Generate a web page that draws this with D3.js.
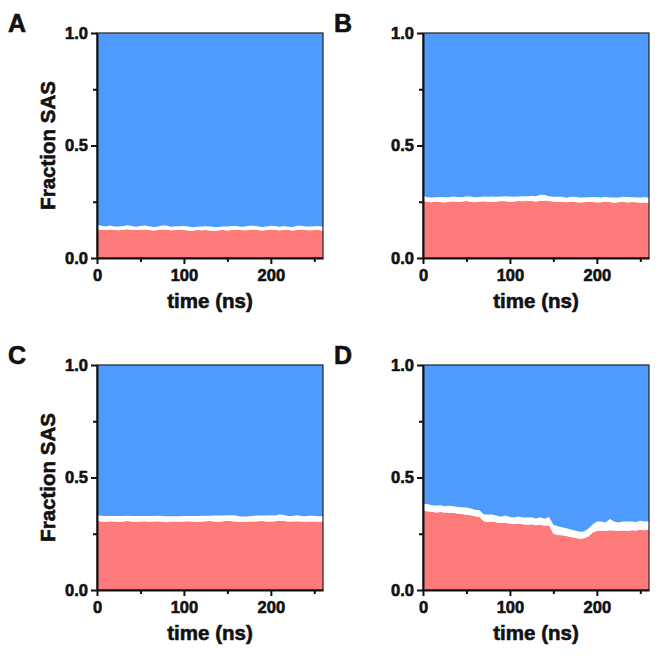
<!DOCTYPE html>
<html>
<head>
<meta charset="utf-8">
<script src="https://cdn.jsdelivr.net/npm/d3@7"></script>
<style>
  html, body { margin: 0; padding: 0; background: #fff; }
  svg text { font-family: "Liberation Sans", Arial, sans-serif; font-weight: bold; fill: #111; stroke: #111; stroke-width: 0.6px; }
</style>
</head>
<body>
<svg id="chart" width="672" height="665"></svg>
<script>
// time axis, 5 ns sampling
const TIME = d3.range(0, 261, 5);

// buried (red) fraction per panel
const buriedA = [0.128,0.126,0.124,0.127,0.125,0.123,0.126,0.128,0.125,0.124,
  0.126,0.127,0.124,0.122,0.125,0.127,0.126,0.123,0.124,0.126,
  0.125,0.122,0.121,0.124,0.123,0.125,0.122,0.121,0.123,0.124,
  0.122,0.125,0.126,0.124,0.123,0.125,0.127,0.124,0.122,0.125,
  0.126,0.124,0.123,0.125,0.124,0.122,0.125,0.126,0.124,0.123,
  0.125,0.124,0.122];
const buriedB = [0.255,0.250,0.248,0.251,0.249,0.247,0.250,0.252,0.249,0.251,
  0.253,0.250,0.248,0.251,0.252,0.250,0.249,0.251,0.253,0.252,
  0.250,0.251,0.253,0.252,0.254,0.253,0.251,0.255,0.256,0.253,
  0.251,0.249,0.250,0.248,0.251,0.249,0.247,0.248,0.250,0.249,
  0.247,0.248,0.250,0.249,0.246,0.248,0.250,0.247,0.249,0.248,
  0.246,0.247,0.245];
const buriedC = [0.308,0.305,0.303,0.306,0.304,0.302,0.305,0.307,0.304,0.303,
  0.305,0.306,0.303,0.304,0.306,0.303,0.301,0.304,0.305,0.303,
  0.305,0.306,0.304,0.302,0.304,0.306,0.307,0.305,0.303,0.306,
  0.308,0.306,0.304,0.302,0.303,0.305,0.304,0.306,0.307,0.305,
  0.304,0.306,0.309,0.307,0.305,0.304,0.306,0.305,0.303,0.304,
  0.305,0.303,0.304];
const buriedD = [0.352,0.350,0.348,0.345,0.347,0.344,0.343,0.342,0.340,0.338,
  0.335,0.332,0.328,0.324,0.306,0.302,0.305,0.300,0.298,0.300,
  0.295,0.293,0.296,0.292,0.290,0.292,0.288,0.290,0.286,0.288,
  0.250,0.245,0.243,0.240,0.236,0.232,0.228,0.230,0.238,0.255,
  0.262,0.265,0.262,0.266,0.264,0.262,0.265,0.263,0.266,0.264,
  0.268,0.266,0.270];

// intermediate (white) fraction per panel
const interA = [0.020,0.017,0.016,0.018,0.015,0.017,0.016,0.018,0.017,0.015,
  0.016,0.018,0.017,0.016,0.015,0.017,0.018,0.016,0.017,0.015,
  0.017,0.018,0.016,0.015,0.017,0.016,0.018,0.017,0.015,0.016,
  0.018,0.017,0.016,0.015,0.017,0.018,0.016,0.017,0.016,0.015,
  0.017,0.018,0.016,0.017,0.015,0.016,0.018,0.017,0.016,0.017,
  0.016,0.018,0.017];
const interB = [0.022,0.020,0.021,0.019,0.022,0.023,0.020,0.021,0.022,0.019,
  0.021,0.023,0.022,0.020,0.021,0.022,0.024,0.021,0.020,0.022,
  0.023,0.021,0.020,0.022,0.021,0.023,0.024,0.026,0.024,0.022,
  0.021,0.023,0.022,0.020,0.021,0.023,0.022,0.021,0.020,0.022,
  0.023,0.021,0.022,0.020,0.023,0.021,0.022,0.024,0.021,0.022,
  0.023,0.024,0.022];
const interC = [0.024,0.025,0.026,0.023,0.025,0.027,0.024,0.023,0.025,0.026,
  0.024,0.023,0.026,0.025,0.024,0.026,0.027,0.024,0.023,0.025,
  0.024,0.023,0.025,0.027,0.026,0.024,0.023,0.026,0.028,0.025,
  0.024,0.026,0.027,0.025,0.024,0.023,0.026,0.025,0.024,0.026,
  0.028,0.025,0.027,0.026,0.024,0.025,0.026,0.024,0.025,0.027,
  0.024,0.025,0.024];
const interD = [0.030,0.032,0.029,0.031,0.030,0.028,0.031,0.030,0.029,0.030,
  0.032,0.030,0.029,0.031,0.030,0.034,0.031,0.030,0.028,0.031,
  0.030,0.029,0.031,0.030,0.032,0.031,0.030,0.033,0.031,0.036,
  0.040,0.038,0.036,0.035,0.033,0.032,0.031,0.030,0.034,0.036,
  0.042,0.040,0.038,0.050,0.040,0.038,0.040,0.041,0.039,0.038,
  0.040,0.039,0.036];

const PANELS = [
  { label: 'A', buried: buriedA, inter: interA, ytitle: true },
  { label: 'B', buried: buriedB, inter: interB, ytitle: false },
  { label: 'C', buried: buriedC, inter: interC, ytitle: true },
  { label: 'D', buried: buriedD, inter: interD, ytitle: false },
];

const X_TICKS = [0, 100, 200];
const X_MINOR = [50, 150, 250];
const Y_TICKS = [0, 0.5, 1.0];
const Y_MINOR = [0.25, 0.75];

const COLORS = { buried: '#fe7b7b', inter: '#ffffff', exposed: '#4e9bfd' };

const svg = d3.select('#chart');
const W = 226, H = 225;
const ORIGINS = [[97, 33], [423, 33], [97, 365], [423, 365]];

const x = d3.scaleLinear().domain([0, 260]).range([0, W]);
const y = d3.scaleLinear().domain([0, 1]).range([H, 0]);

PANELS.forEach((p, i) => {
  const [ox, oy] = ORIGINS[i];
  const g = svg.append('g').attr('transform', `translate(${ox},${oy})`);

  const rows = TIME.map((t, k) => ({
    t,
    buried: p.buried[k],
    inter: p.inter[k],
    exposed: 1 - p.buried[k] - p.inter[k],
  }));
  const series = d3.stack().keys(['buried', 'inter', 'exposed'])(rows);

  const area = d3.area()
    .x(d => x(d.data.t))
    .y0(d => y(d[0]))
    .y1(d => y(d[1]));

  g.selectAll('.layer')
    .data(series)
    .join('path')
      .attr('class', 'layer')
      .attr('fill', d => COLORS[d.key])
      .attr('d', area);

  // frame
  g.append('rect')
    .attr('width', W).attr('height', H)
    .attr('fill', 'none')
    .attr('stroke', '#222')
    .attr('stroke-width', 1.2);

  // x axis
  g.append('g').attr('transform', `translate(0,${H})`)
    .call(d3.axisBottom(x).tickValues(X_TICKS).tickSize(6).tickSizeOuter(0).tickPadding(5));
  g.append('g').attr('transform', `translate(0,${H})`)
    .call(d3.axisBottom(x).tickValues(X_MINOR).tickSize(4).tickSizeOuter(0).tickFormat(''))
    .select('.domain').remove();

  // y axis
  g.append('g')
    .call(d3.axisLeft(y).tickValues(Y_TICKS).tickSize(6).tickSizeOuter(0).tickPadding(3).tickFormat(d3.format('.1f')));
  g.append('g')
    .call(d3.axisLeft(y).tickValues(Y_MINOR).tickSize(4).tickSizeOuter(0).tickFormat(''))
    .select('.domain').remove();

  g.selectAll('.domain').attr('stroke', '#111').attr('stroke-width', 2);
  g.selectAll('.tick line').attr('stroke', '#111').attr('stroke-width', 2);
  g.selectAll('.tick text').attr('font-size', 16.5).attr('fill', '#111');

  g.append('text')
    .attr('x', W / 2).attr('y', H + 50)
    .attr('text-anchor', 'middle')
    .attr('font-size', 20.5)
    .text('time (ns)');

  if (p.ytitle) {
    g.append('text')
      .attr('transform', `translate(-42,${H / 2}) rotate(-90)`)
      .attr('text-anchor', 'middle')
      .attr('font-size', 20.5)
      .text('Fraction SAS');
  }

  g.append('text')
    .attr('x', -89).attr('y', -1)
    .attr('font-size', 25)
    .text(p.label);
});
</script>
</body>
</html>
